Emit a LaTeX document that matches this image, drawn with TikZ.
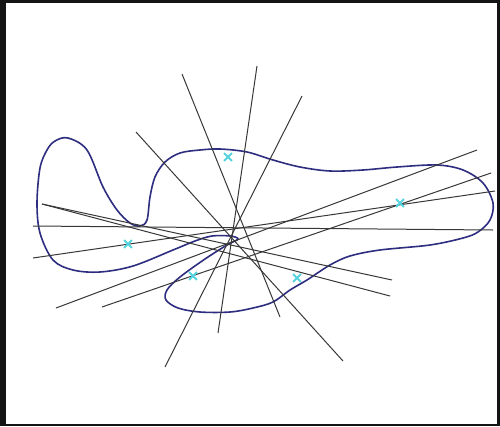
\documentclass[tikz,border=0pt]{standalone}
\usepackage{xcolor}
\usepackage{tikz}
\usetikzlibrary{shapes.misc}
\definecolor{curveblue}{HTML}{2E2E80}
\definecolor{markcyan}{HTML}{55D4E0}
\definecolor{cutgray}{HTML}{383838}
\definecolor{framebg}{HTML}{141414}
\tikzset{
  cut/.style={draw=cutgray, line width=1pt},
  outline/.style={draw=curveblue, line width=1.6pt},
  sample/.style={cross out, draw=markcyan, line width=1.8pt,
    minimum size=6pt, inner sep=0pt},
}

\begin{document}
\begin{tikzpicture}[x=1pt, y=-1pt]
  \useasboundingbox (0,0) rectangle (500,426);
  \fill[framebg] (0,0) rectangle (500,426);
  \fill[white] (6,3) rectangle (497,423.5);

  % region boundary
  \draw[outline] plot[smooth cycle, tension=0.55] coordinates {
    (68,138) (87,150) (103,187) (117,210) (130,223) (140,226) (147,220)
    (150,197) (155,177) (165,162) (180,153) (200,150) (220,149) (247,152)
    (273,160) (300,167) (330,171) (363,170) (397,167) (437,165) (463,170)
    (483,183) (493,203) (490,220) (478,232) (463,238) (430,245) (380,250)
    (350,256) (330,265) (307,280) (290,290) (273,302) (253,308) (230,312)
    (200,312) (178,308) (166,300) (167,290) (180,277) (205,259) (227,245)
    (238,239) (230,236) (212,236) (195,241) (173,250) (133,266) (100,272)
    (73,270) (53,260) (40,233) (37,203) (40,168) (47,150) (55,141)};

  % line end points
  \coordinate (ta) at (136,132);  \coordinate (ba) at (343,361);
  \coordinate (tb) at (182,74);   \coordinate (bb) at (280,317);
  \coordinate (tc) at (257,66);   \coordinate (bc) at (218,333);
  \coordinate (td) at (302,96);   \coordinate (bd) at (165,367);
  \coordinate (re) at (477,150);  \coordinate (le) at (56,308);
  \coordinate (rf) at (491,173);  \coordinate (lf) at (102,307);
  \coordinate (rg) at (495,191);  \coordinate (lg) at (33,258);
  \coordinate (rh) at (493,230);  \coordinate (lh) at (33,226);
  \coordinate (ri) at (392,280);  \coordinate (ls) at (42,204);
  \coordinate (rj) at (390,296);

  \draw[cut] (ta) -- (ba);
  \draw[cut] (tb) -- (bb);
  \draw[cut] (tc) -- (bc);
  \draw[cut] (td) -- (bd);
  \draw[cut] (re) -- (le);
  \draw[cut] (rf) -- (lf);
  \draw[cut] (rg) -- (lg);
  \draw[cut] (rh) -- (lh);
  \draw[cut] (ri) -- (ls);
  \draw[cut] (rj) -- (ls);

  % sample points
  \node[sample] (s1) at (228,157) {};
  \node[sample] (s2) at (400,203) {};
  \node[sample] (s3) at (128,244) {};
  \node[sample] (s4) at (193,276) {};
  \node[sample] (s5) at (297,278) {};
\end{tikzpicture}
\end{document}
